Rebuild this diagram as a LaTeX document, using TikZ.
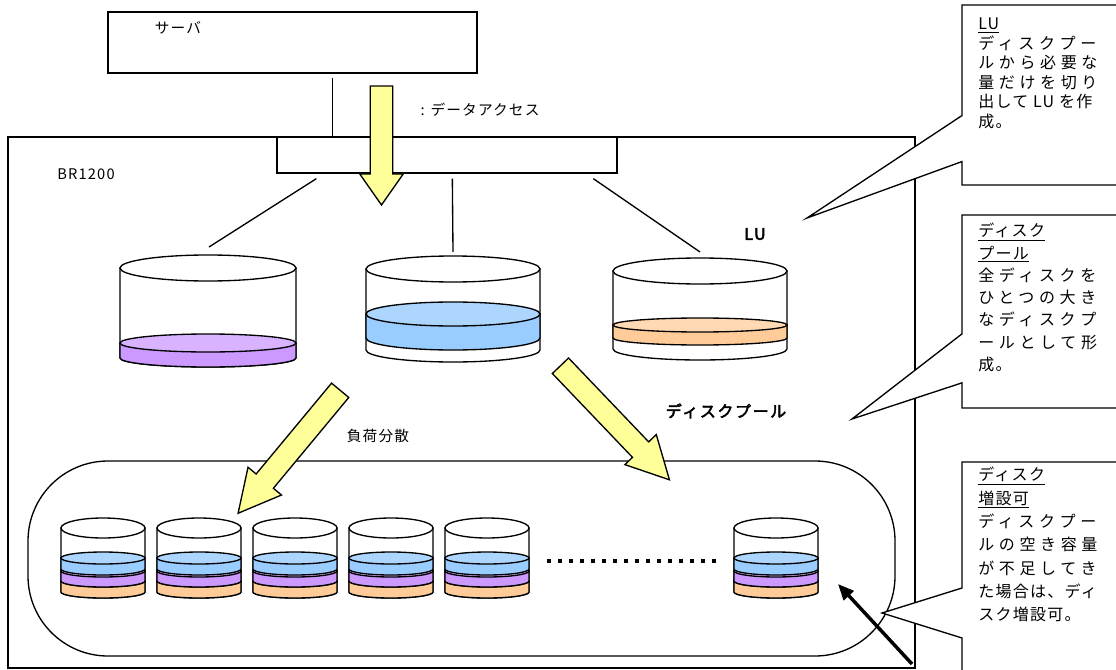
\documentclass[tikz,border=0pt]{standalone}
\usepackage{fontspec}
\newfontfamily\jp[LetterSpace=8]{Noto Sans CJK JP}
\newfontfamily\jpw[LetterSpace=29]{Noto Sans CJK JP}
\newfontfamily\jpb[FakeBold=3,LetterSpace=10]{Noto Sans CJK JP}
\usetikzlibrary{shapes.arrows,shapes.callouts,calc,arrows.meta}
\definecolor{amarillo}{RGB}{255,255,153}
\definecolor{morado}{RGB}{204,153,255}
\definecolor{moradoclaro}{RGB}{217,179,255}
\definecolor{azul}{RGB}{153,204,255}
\definecolor{azulclaro}{RGB}{173,214,255}
\definecolor{naranja}{RGB}{255,204,153}
\definecolor{naranjaclaro}{RGB}{255,217,179}
\def\upx{*0.75pt}
% cx, y arriba, y abajo, rx, ry arriba, ry abajo, lado, tapa
\newcommand{\cilindro}[8]{%
	\draw[linea, fill=#7] (#1-#4,#2) -- (#1-#4,#3) arc[start angle=180, end angle=360, x radius=#4\upx, y radius=#6\upx] -- (#1+#4,#2) -- cycle;
	\draw[linea, fill=#8] (#1,#2) ellipse [x radius=#4\upx, y radius=#5\upx];
}
\begin{document}
\begin{tikzpicture}[x=0.75pt,y=-0.75pt]

	%DEFINICIONES
	\tikzstyle{every node}=[font=\jp\fontsize{11}{13}\selectfont]
	\tikzstyle{caja} = [draw, line width=1pt, fill=white, inner sep=0pt]
	\tikzstyle{negrita} = [font=\jpb\fontsize{12}{14}\selectfont]
	\tikzstyle{linea} = [line width=1pt]
	\tikzstyle{amarilla} = [single arrow, draw, line width=1pt, fill=amarillo, minimum width=31.5pt, single arrow head extend=7.9pt, inner xsep=0pt, inner ysep=7.9pt]
	\tikzstyle{flecha} = [-{Triangle[length=12pt,width=10pt]}, line width=2.6pt]
	\tikzstyle{globo} = [rectangle callout, draw, line width=1pt, fill=white, minimum width=127.5pt]
	\tikzstyle{nota} = [align=left, anchor=north west, inner sep=0pt, font=\jp\fontsize{12}{14.6}\selectfont]

	\useasboundingbox (0,0) rectangle (1116,670);

	%BLOQUES
	\draw(461.5,402.5) node[caja, fill=none, minimum width=907\upx, minimum height=531\upx](br){};
	\draw(292.5,42.5) node[caja, minimum width=369\upx, minimum height=61\upx](srv){};
	\draw(447,155) node[caja, minimum width=340\upx, minimum height=36\upx](ctrl){};
	\draw(461.5,558.5) node[caja, rounded corners=60pt, minimum width=867\upx, minimum height=195\upx](pool){};

	%TEXTOS
	\draw(178,28) node(srvtxt){サーバ};
	\draw(86,174) node(brtxt){BR1200};
	\draw(480,110) node(acc){: データアクセス};
	\draw(378,436) node(fuka){負荷分散};
	\draw(755,234) node[negrita](lutxt){LU};
	\draw(726,411) node[negrita](dptxt){ディスクプール};

	%DISCOS LU
	\coordinate (dA) at (208,255);
	\coordinate (dB) at (453,256);
	\coordinate (dC) at (700,258);
	\cilindro{208}{268}{358}{88}{13}{9}{white}{white}
	\cilindro{208}{343}{358}{88}{9}{9}{morado}{moradoclaro}
	\cilindro{453}{269}{350}{87}{13}{12}{white}{white}
	\cilindro{453}{314}{338}{87}{12}{12}{azul}{azulclaro}
	\cilindro{700}{271}{349}{87}{13}{11}{white}{white}
	\cilindro{700}{325}{338}{87}{7}{7}{naranja}{naranjaclaro}

	%DISCOS DEL POOL
	\foreach \cx in {103,199,295,391,487,776}{
		\cilindro{\cx}{528}{592}{42}{10}{6}{white}{white}
		\cilindro{\cx}{581}{592}{42}{6}{6}{naranja}{naranjaclaro}
		\cilindro{\cx}{571}{581}{42}{6}{6}{morado}{moradoclaro}
		\cilindro{\cx}{558}{569}{42}{6}{6}{azul}{azulclaro}
	}
	\draw[line width=3pt, dash pattern=on 3pt off 5.25pt] (547,561) -- (716,561);	%PUNTOS

	%LINEAS
	\draw[linea] ($(srv.south west)+(225,4)$) -- ($(ctrl.north west)+(56,0)$);
	\draw[linea] ($(ctrl.south west)+(40,5)$) -- ($(dA)+(1,-8)$);
	\draw[linea] ($(ctrl.south west)+(176,5)$) -- ($(dB)+(0,-4)$);
	\draw[linea] ($(ctrl.south west)+(317,5)$) -- ($(dC)+(0,-6)$);

	%FLECHAS
	\draw(381.5,137.5) node[amarilla, rotate=-90, minimum height=89.25pt, single arrow tip angle=70](a1){};
	\draw(296,443.5) node[amarilla, rotate=230.3, minimum height=119.85pt, single arrow tip angle=55](a2){};
	\draw(607.5,415) node[amarilla, rotate=-46.3, minimum height=118.3pt, single arrow tip angle=55](a3){};
	\coordinate (p0) at (912,664);
	\coordinate (p1) at (838,584);
	\draw[flecha] (p0) -- (p1);

	%GLOBOS
	\draw(1047,95) node[globo, minimum height=135pt, callout absolute pointer={(807,218)}, callout pointer width=34.5pt](c1){};
	\draw(1047,311.5) node[globo, minimum height=144.75pt, callout absolute pointer={(852,419)}, callout pointer width=36.75pt](c2){};
	\draw(1047,613) node[globo, minimum height=226.5pt, callout absolute pointer={(882,613)}, callout pointer width=37.5pt](c3){};

	\draw(978,18) node[nota](t1){\underline{LU}\\{\jpw ディスクプー}\\{\jpw ルから必要な}\\{\jpw 量だけを切り}\\出して LU を作\\成。};
	\draw(978,223) node[nota, font=\jp\fontsize{12}{16.7}\selectfont](t2){\underline{ディスク}\\\underline{プール}\\{\jpw 全ディスクを}\\{\jpw ひとつの大き}\\{\jpw なディスクプ}\\{\jpw ールとして形}\\成。};
	\draw(978,467) node[nota, font=\jp\fontsize{12}{17.5}\selectfont](t3){\underline{ディスク}\\\underline{増設可}\\{\jpw ディスクプー}\\{\jpw ルの空き容量}\\{\jpw が不足してき}\\た場合は、ディ\\スク増設可。};
\end{tikzpicture}
\end{document}
